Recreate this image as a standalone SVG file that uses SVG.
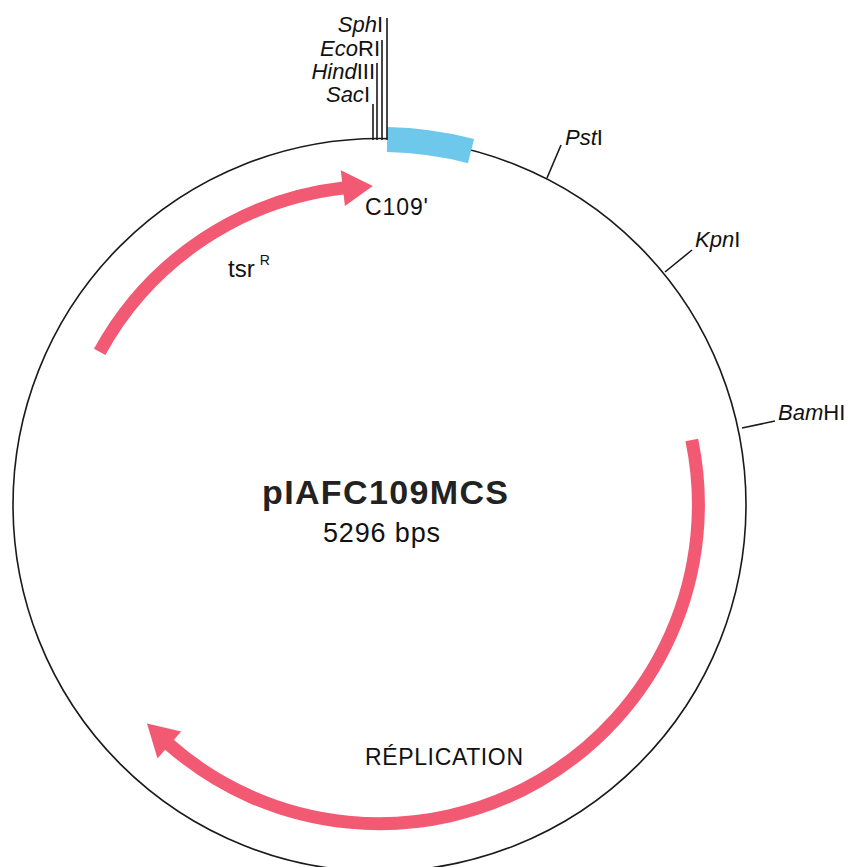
<svg xmlns="http://www.w3.org/2000/svg" width="853" height="867" viewBox="0 0 853 867">
<style>
.bb{fill:none;stroke:#1a1a1a;stroke-width:1.6}
.tk{fill:none;stroke:#1a1a1a;stroke-width:1.6}
.shaft{fill:none;stroke:#f25a74;stroke-width:13}
.head{fill:#f25a74}
.lbl{font-family:"Liberation Sans",Arial,sans-serif;font-size:22px;fill:#111}
.it{font-style:italic}
</style>
<rect width="853" height="867" fill="#fff"/>
<g id="backbone">
<circle class="bb" cx="379.5" cy="505" r="366.5"/>
</g>
<g id="mcs">
<path d="M387.4,127.1 A378,378 0 0 1 474.1,139.0 L467.9,163.2 A353,353 0 0 0 386.9,152.1 Z" fill="#6dc8ec"/>
</g>
<g id="connectors">
<line class="tk" x1="373" y1="140" x2="373" y2="104"/>
<line class="tk" x1="377" y1="140" x2="377" y2="63"/>
<line class="tk" x1="382" y1="140" x2="382" y2="40"/>
<line class="tk" x1="387" y1="140" x2="387" y2="18"/>
<line class="tk" x1="547" y1="178" x2="561" y2="145"/>
<line class="tk" x1="665" y1="272" x2="692" y2="250"/>
<line class="tk" x1="742" y1="428" x2="775" y2="421"/>
</g>
<g id="sites">
<text class="lbl" x="383" y="32" text-anchor="end"><tspan class="it">Sph</tspan>I</text>
<text class="lbl" x="380" y="56" text-anchor="end"><tspan class="it">Eco</tspan>RI</text>
<text class="lbl" x="375" y="79" text-anchor="end"><tspan class="it">Hind</tspan>III</text>
<text class="lbl" x="370" y="102" text-anchor="end"><tspan class="it">Sac</tspan>I</text>
<text class="lbl" x="565" y="145"><tspan class="it">Pst</tspan>I</text>
<text class="lbl" x="695" y="247"><tspan class="it">Kpn</tspan>I</text>
<text class="lbl" x="778" y="420"><tspan class="it">Bam</tspan>HI</text>
</g>
<g id="tsrR">
<path class="shaft" d="M99.7,351.8 A319,319 0 0 1 343.5,188"/>
<polygon class="head" points="340.8,170.2 372.8,186.1 344.9,206.0"/>
<text class="lbl" x="228" y="277" style="font-size:24px">tsr<tspan dx="5" dy="-12" style="font-size:14px">R</tspan></text>
</g>
<g id="C109">
<text class="lbl" x="365" y="215" style="font-size:23px" textLength="63">C109'</text>
</g>
<g id="replication">
<path class="shaft" d="M691.8,440.0 A319,319 0 0 1 168.5,744"/>
<polygon class="head" points="157.5,758.6 147.0,723.4 181.2,731.5"/>
<text class="lbl" x="365" y="765" style="font-size:23px" textLength="158">RÉPLICATION</text>
</g>
<g id="title">
<text x="262" y="504" textLength="246" style="font-family:'Liberation Sans',Arial,sans-serif;font-weight:bold;font-size:34px;fill:#222">pIAFC109MCS</text>
<text x="323" y="542" textLength="117" style="font-family:'Liberation Sans',Arial,sans-serif;font-size:27px;fill:#111">5296 bps</text>
</g>
</svg>
